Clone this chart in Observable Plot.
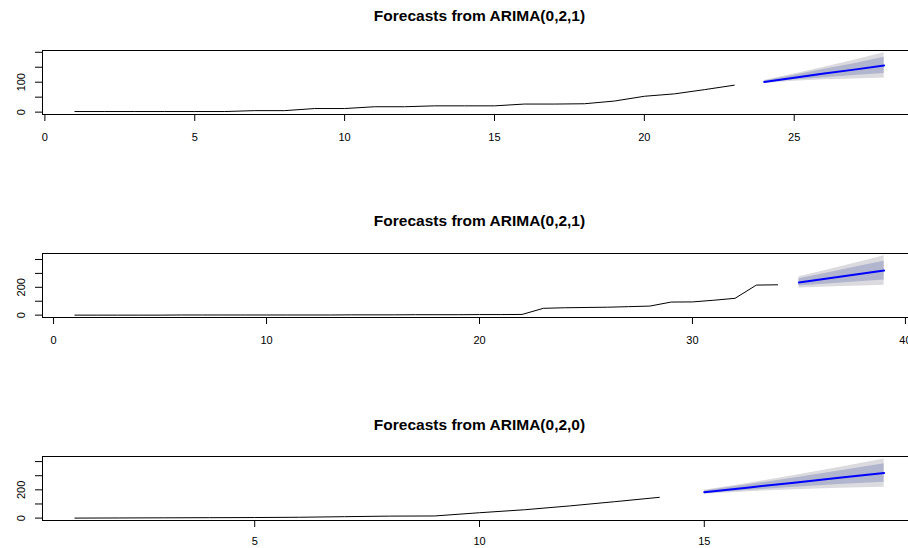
<!DOCTYPE html>
<html>
<head>
<meta charset="utf-8">
<script src="https://cdn.jsdelivr.net/npm/d3@7"></script>
<script src="https://cdn.jsdelivr.net/npm/@observablehq/plot@0.6"></script>
<style>
  html, body { margin: 0; padding: 0; background: #fff; overflow: hidden; width: 908px; height: 548px; }
  #root { position: relative; width: 908px; height: 548px; overflow: hidden; }
  .panel { position: absolute; left: 0; width: 930px; }
  .panel svg { max-width: none !important; }
</style>
</head>
<body>
<div id="root"></div>
<script>
const titles = ["Forecasts from ARIMA(0,2,1)", "Forecasts from ARIMA(0,2,1)", "Forecasts from ARIMA(0,2,0)"];

// ---- Panel 1 ----
const p1Hist = [2, 2, 2, 2, 2, 2, 5, 5, 12, 12, 18, 18, 21, 21, 21, 27, 27, 28, 37, 53, 61, 75, 90];
const p1FcX = [24, 25, 26, 27, 28];
const p1Mean = [101, 115, 129, 142, 156];
const p1Lo80 = [98, 107, 115, 122, 129];
const p1Hi80 = [104, 123, 143, 162, 183];
const p1Lo95 = [96, 103, 108, 111, 114];
const p1Hi95 = [106, 127, 150, 173, 198];
const p1XTicks = [0, 5, 10, 15, 20, 25];
const p1YTicks = [0, 50, 100, 150, 200];
const p1YLabels = [0, 100];

// ---- Panel 2 ----
const p2Hist = [0, 0, 0, 0, 0, 1, 1, 1, 1, 1, 1, 1, 1, 2, 2, 2, 3, 3, 3, 4, 4, 5,
                49, 53, 55, 57, 61, 65, 94, 95, 107, 121, 216, 218];
const p2FcX = [35, 36, 37, 38, 39];
const p2Mean = [235, 256, 278, 299, 320];
const p2Lo80 = [209, 220, 231, 241, 252];
const p2Hi80 = [261, 292, 325, 357, 388];
const p2Lo95 = [195, 201, 206, 210, 214];
const p2Hi95 = [275, 311, 350, 388, 426];
const p2XTicks = [0, 10, 20, 30, 40];
const p2YTicks = [0, 100, 200, 300, 400];
const p2YLabels = [0, 200];

// ---- Panel 3 ----
const p3Hist = [0, 1, 2, 3, 4, 6, 10, 14, 15, 38, 59, 86, 116, 147];
const p3FcX = [15, 16, 17, 18, 19];
const p3Mean = [183, 217, 251, 285, 319];
const p3Lo80 = [174, 197, 218, 237, 254];
const p3Hi80 = [192, 237, 284, 333, 384];
const p3Lo95 = [169, 187, 201, 211, 219];
const p3Hi95 = [197, 247, 301, 359, 419];
const p3XTicks = [5, 10, 15];
const p3YTicks = [0, 100, 200, 300, 400];
const p3YLabels = [0, 200];

const FONT = "'Liberation Sans', Arial, Helvetica, sans-serif";
const COL95 = "#dbdbdf";
const COL80 = "#b1b5cd";

function panel(cfg) {
  const hist = cfg.hist.map((v, i) => ({x: i + 1, y: v}));
  const fc = cfg.fcX.map((x, i) => ({x, m: cfg.mean[i], l80: cfg.lo80[i], h80: cfg.hi80[i], l95: cfg.lo95[i], h95: cfg.hi95[i]}));
  const boxH = 64;
  const chart = Plot.plot({
    width: 930,
    height: 45 + boxH + 40,
    marginLeft: 42,
    marginRight: 14,
    marginTop: 45,
    marginBottom: 40,
    style: {fontFamily: FONT, fontSize: "11px", color: "black", background: "transparent", overflow: "visible", maxWidth: "none"},
    x: {domain: cfg.xDomain, axis: null},
    y: {domain: cfg.yDomain, axis: null},
    marks: [
      Plot.areaY(fc, {x: "x", y1: "l95", y2: "h95", fill: COL95}),
      Plot.areaY(fc, {x: "x", y1: "l80", y2: "h80", fill: COL80}),
      Plot.line(hist, {x: "x", y: "y", stroke: "black", strokeWidth: 1}),
      Plot.line(fc, {x: "x", y: "m", stroke: "#0000ff", strokeWidth: 2}),
      Plot.frame({stroke: "black", strokeWidth: 1}),
      Plot.axisX({ticks: cfg.xTicks, tickSize: 7, tickFormat: () => "", label: null, stroke: "black"}),
      Plot.text(cfg.xTicks, {x: d => d, frameAnchor: "bottom", lineAnchor: "middle", dy: cfg.xLabelDy, text: d => String(d), fill: "black", fontSize: 11}),
      Plot.axisY({ticks: cfg.yTicks, tickSize: 7, tickFormat: () => "", label: null, stroke: "black"}),
      Plot.text(cfg.yLabels, {y: d => d, frameAnchor: "left", textAnchor: "middle", lineAnchor: "middle", dx: -21, rotate: -90, text: d => String(d), fill: "black", fontSize: 11}),
      Plot.text([cfg.title], {frameAnchor: "top", lineAnchor: "middle", dy: cfg.titleDy, text: d => d, fontWeight: "bold", fontSize: 15.5, fill: "black"})
    ]
  });
  chart.style.maxWidth = "none";
  const div = document.createElement("div");
  div.className = "panel";
  div.style.top = cfg.top + "px";
  div.appendChild(chart);
  document.getElementById("root").appendChild(div);
}

panel({title: titles[0], hist: p1Hist, fcX: p1FcX, mean: p1Mean, lo80: p1Lo80, hi80: p1Hi80, lo95: p1Lo95, hi95: p1Hi95,
  xTicks: p1XTicks, yTicks: p1YTicks, yLabels: p1YLabels, xDomain: [-0.08, 29.08], yDomain: [-7.9, 205.9], top: 5, titleDy: -34, xLabelDy: 23});
panel({title: titles[1], hist: p2Hist, fcX: p2FcX, mean: p2Mean, lo80: p2Lo80, hi80: p2Hi80, lo95: p2Lo95, hi95: p2Hi95,
  xTicks: p2XTicks, yTicks: p2YTicks, yLabels: p2YLabels, xDomain: [-0.52, 40.52], yDomain: [-17, 443], top: 208, titleDy: -32, xLabelDy: 23});
panel({title: titles[2], hist: p3Hist, fcX: p3FcX, mean: p3Mean, lo80: p3Lo80, hi80: p3Hi80, lo95: p3Lo95, hi95: p3Hi95,
  xTicks: p3XTicks, yTicks: p3YTicks, yLabels: p3YLabels, xDomain: [0.28, 19.72], yDomain: [-17, 436], top: 411, titleDy: -31, xLabelDy: 21});
</script>
</body>
</html>
